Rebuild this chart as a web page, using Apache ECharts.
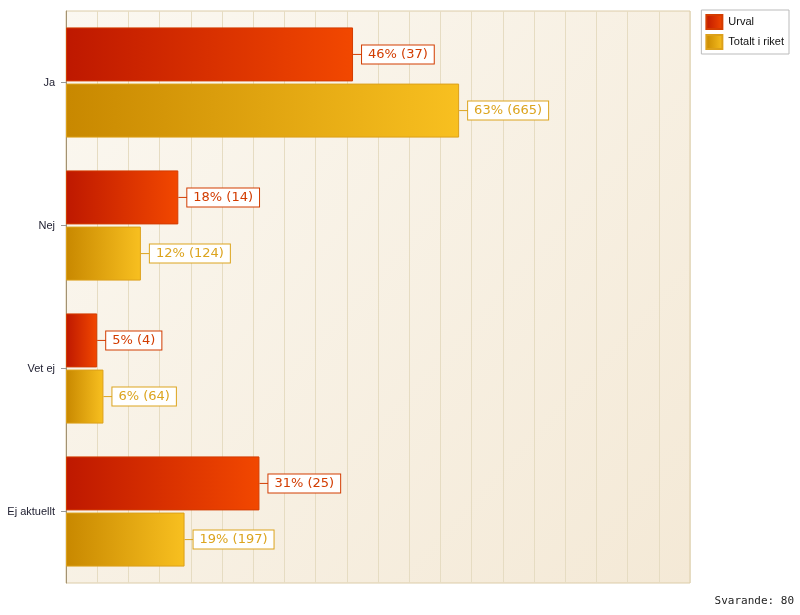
<!DOCTYPE html>
<html><head><meta charset="utf-8">
<script src="https://cdn.jsdelivr.net/npm/echarts@6/dist/echarts.min.js"></script>
<style>html,body{margin:0;padding:0;background:#fff}#c{width:800px;height:615px}</style>
</head><body><div id="c"></div>
<script>
const categories = ['Ja', 'Nej', 'Vet ej', 'Ej aktuellt'];
const urvalPct = [46, 18, 5, 31];
const urvalCount = [37, 14, 4, 25];
const riketPct = [63, 12, 6, 19];
const riketCount = [665, 124, 64, 197];
const seriesNames = ['Urval', 'Totalt i riket'];
const footer = 'Svarande: 80';

const chart = echarts.init(document.getElementById('c'));
const G = echarts.graphic.LinearGradient;
function mkLabel(color, counts, pct) {
  return {
    show: true, position: 'right', distance: 0,
    formatter: p => '{l|}{b|' + pct[p.dataIndex] + '% (' + counts[p.dataIndex] + ')}',
    rich: {
      l: {width: 9, height: 1, backgroundColor: color},
      b: {color: color, fontFamily: 'DejaVu Sans', fontSize: 13, backgroundColor: '#fff',
          borderColor: color, borderWidth: 1, padding: [3, 6, 2, 6], lineHeight: 14}
    }
  };
}
chart.setOption({
  animation: false,
  grid: {left: 66, top: 11, width: 624, height: 572, show: true, borderColor: '#dccca8', borderWidth: 1,
    backgroundColor: new G(0, 0, 1, 1, [{offset: 0, color: '#fbf8f1'}, {offset: 1, color: '#f4e9d6'}])},
  legend: {right: 11, top: 10, orient: 'vertical', itemWidth: 16, itemHeight: 14, itemGap: 4,
    backgroundColor: '#fff', borderColor: '#bbbbbb', borderWidth: 1, padding: [4, 5, 4, 4],
    icon: 'rect', textStyle: {fontFamily: 'Liberation Sans', fontSize: 11, color: '#111', padding: [0, 0, 0, 1]},
    data: seriesNames},
  xAxis: {type: 'value', min: 0, max: 100, interval: 5,
    axisLabel: {show: false}, axisTick: {show: false}, axisLine: {show: false},
    splitLine: {lineStyle: {color: '#e6dcc2', width: 1}}},
  yAxis: {type: 'category', data: categories, inverse: true,
    axisLine: {lineStyle: {color: '#a39272', width: 1}},
    axisTick: {show: true, alignWithLabel: true, length: 5, lineStyle: {color: '#999999', width: 1}},
    axisLabel: {margin: 11, fontFamily: 'Liberation Sans', fontSize: 11, color: '#222233'}},
  graphic: [{type: 'text', right: 6, bottom: 8, style: {text: footer, fontFamily: 'DejaVu Sans Mono', fontSize: 11, fill: '#222'}}],
  series: [
    {name: seriesNames[0], type: 'bar', data: urvalPct, barWidth: 54, barGap: '4%',
     itemStyle: {color: new G(0, 0, 1, 0, [{offset: 0, color: '#be1800'}, {offset: 1, color: '#f24800'}]),
       borderColor: '#d43c00', borderWidth: 1},
     label: mkLabel('#d23c00', urvalCount, urvalPct)},
    {name: seriesNames[1], type: 'bar', data: riketPct, barWidth: 54,
     itemStyle: {color: new G(0, 0, 1, 0, [{offset: 0, color: '#c88800'}, {offset: 1, color: '#f8c020'}]),
       borderColor: '#dca01a', borderWidth: 1},
     label: mkLabel('#dca41e', riketCount, riketPct)}
  ]
});
</script></body></html>
